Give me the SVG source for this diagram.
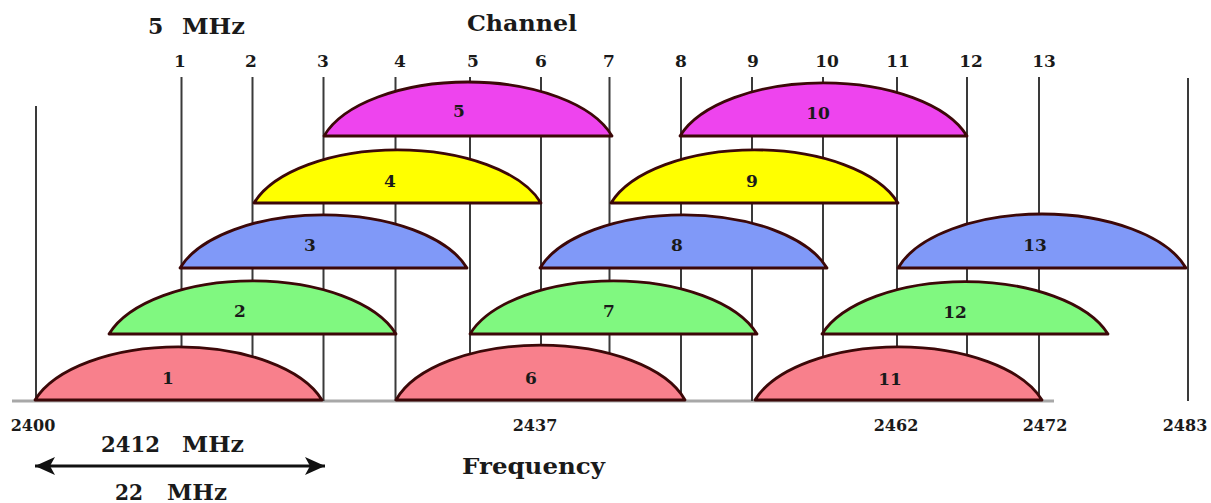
<svg xmlns="http://www.w3.org/2000/svg" width="1211" height="503" viewBox="0 0 1211 503">
  <style>
    .grid { stroke: #3a3a3a; stroke-width: 2; fill: none; }
    .base { stroke: #a8a8a8; stroke-width: 3; fill: none; }
    .bump { stroke: #3c0808; stroke-width: 2.8; stroke-linejoin: round; }
    .red { fill: #f8808c; }
    .green { fill: #80f880; }
    .blue { fill: #8099f8; }
    .yellow { fill: #ffff00; }
    .magenta { fill: #ee44ee; }
    text { font-family: "DejaVu Serif", "Liberation Serif", serif; font-weight: bold; fill: #1a1a1a; }
    .lbl { font-size: 17px; text-anchor: middle; }
    .ch { font-size: 17px; text-anchor: middle; }
    .freq { font-size: 16px; text-anchor: middle; }
    .title { font-size: 22px; }
    .big { font-size: 23px; }
    .arrow { stroke: #111; stroke-width: 3; }
  </style>
  <defs>
    <marker id="head" viewBox="0 0 20 18" refX="20" refY="9" markerWidth="20" markerHeight="18" markerUnits="userSpaceOnUse" orient="auto-start-reverse">
      <path d="M0,0 L20,9 L0,18 L5,9 Z" fill="#111"/>
    </marker>
  </defs>

  <rect width="1211" height="503" fill="#ffffff"/>

  <!-- titles -->
  <text class="title" x="148" y="34">5</text>
  <text class="title" x="182" y="34" textLength="63" lengthAdjust="spacingAndGlyphs">MHz</text>
  <text class="title" x="467" y="31" textLength="110" lengthAdjust="spacingAndGlyphs">Channel</text>

  <!-- channel numbers along the top -->
  <g id="channel-numbers">
    <text class="ch" x="180" y="67">1</text>
    <text class="ch" x="251" y="67">2</text>
    <text class="ch" x="323" y="67">3</text>
    <text class="ch" x="400" y="67">4</text>
    <text class="ch" x="473" y="67">5</text>
    <text class="ch" x="541" y="67">6</text>
    <text class="ch" x="609" y="67">7</text>
    <text class="ch" x="681" y="67">8</text>
    <text class="ch" x="753" y="67">9</text>
    <text class="ch" x="827" y="67">10</text>
    <text class="ch" x="898" y="67">11</text>
    <text class="ch" x="971" y="67">12</text>
    <text class="ch" x="1044" y="67">13</text>
  </g>

  <!-- grid lines and frequency axis -->
  <g id="grid">
    <line class="base" x1="12" y1="401" x2="1054" y2="401"/>
    <line class="grid" x1="36" y1="106" x2="36" y2="401"/>
    <line class="grid" x1="1188" y1="78" x2="1188" y2="401"/>
    <line class="grid" x1="181.5" y1="77" x2="181.5" y2="401"/>
    <line class="grid" x1="252.5" y1="77" x2="252.5" y2="401"/>
    <line class="grid" x1="323.5" y1="77" x2="323.5" y2="401"/>
    <line class="grid" x1="395.5" y1="77" x2="395.5" y2="401"/>
    <line class="grid" x1="470" y1="77" x2="470" y2="401"/>
    <line class="grid" x1="541" y1="77" x2="541" y2="401"/>
    <line class="grid" x1="609.5" y1="77" x2="609.5" y2="401"/>
    <line class="grid" x1="681" y1="77" x2="681" y2="401"/>
    <line class="grid" x1="752" y1="77" x2="752" y2="401"/>
    <line class="grid" x1="823" y1="77" x2="823" y2="401"/>
    <line class="grid" x1="897" y1="77" x2="897" y2="401"/>
    <line class="grid" x1="967" y1="77" x2="967" y2="401"/>
    <line class="grid" x1="1039" y1="77" x2="1039" y2="401"/>
  </g>

  <!-- row 1: channels 1, 6, 11 -->
  <g id="ch1"><path class="bump red" d="M35,400 A150,75 0 0 1 322,400 Z"/><text class="lbl" x="168" y="384">1</text></g>
  <g id="ch6"><path class="bump red" d="M396,400 A150,75 0 0 1 685,400 Z"/><text class="lbl" x="531" y="384">6</text></g>
  <g id="ch11"><path class="bump red" d="M755,400 A150,75 0 0 1 1042,400 Z"/><text class="lbl" x="890" y="385">11</text></g>

  <!-- row 2: channels 2, 7, 12 -->
  <g id="ch2"><path class="bump green" d="M109,334 A150,75 0 0 1 396,334 Z"/><text class="lbl" x="240" y="317">2</text></g>
  <g id="ch7"><path class="bump green" d="M470,334 A150,75 0 0 1 757,334 Z"/><text class="lbl" x="609" y="317">7</text></g>
  <g id="ch12"><path class="bump green" d="M822,334 A150,75 0 0 1 1108,334 Z"/><text class="lbl" x="955" y="318">12</text></g>

  <!-- row 3: channels 3, 8, 13 -->
  <g id="ch3"><path class="bump blue" d="M180,268 A150,75 0 0 1 467,268 Z"/><text class="lbl" x="310" y="251">3</text></g>
  <g id="ch8"><path class="bump blue" d="M540,268 A150,75 0 0 1 827,268 Z"/><text class="lbl" x="677" y="251">8</text></g>
  <g id="ch13"><path class="bump blue" d="M898,268 A150,75 0 0 1 1186,268 Z"/><text class="lbl" x="1035" y="251">13</text></g>

  <!-- row 4: channels 4, 9 -->
  <g id="ch4"><path class="bump yellow" d="M254,203 A150,75 0 0 1 541,203 Z"/><text class="lbl" x="390" y="187">4</text></g>
  <g id="ch9"><path class="bump yellow" d="M611,203 A150,75 0 0 1 898,203 Z"/><text class="lbl" x="752" y="187">9</text></g>

  <!-- row 5: channels 5, 10 -->
  <g id="ch5"><path class="bump magenta" d="M324,136 A150,75 0 0 1 612,136 Z"/><text class="lbl" x="459" y="117">5</text></g>
  <g id="ch10"><path class="bump magenta" d="M680,136 A150,75 0 0 1 967,136 Z"/><text class="lbl" x="818" y="119">10</text></g>

  <!-- frequency labels -->
  <g id="frequencies">
    <text class="freq" x="33" y="431" font-weight="normal">2400</text>
    <text class="freq" x="535" y="431">2437</text>
    <text class="freq" x="896" y="431">2462</text>
    <text class="freq" x="1045" y="431">2472</text>
    <text class="freq" x="1185" y="431">2483</text>
  </g>

  <!-- bandwidth annotation -->
  <g id="connectors">
    <line class="arrow" x1="35" y1="466" x2="325" y2="466" marker-start="url(#head)" marker-end="url(#head)"/>
  </g>
  <text class="big" x="101" y="452" textLength="59" lengthAdjust="spacingAndGlyphs">2412</text>
  <text class="big" x="182" y="452" textLength="62" lengthAdjust="spacingAndGlyphs">MHz</text>
  <text class="big" x="115" y="500" textLength="28" lengthAdjust="spacingAndGlyphs">22</text>
  <text class="big" x="167" y="500" textLength="60" lengthAdjust="spacingAndGlyphs">MHz</text>
  <text class="big" x="462" y="474" textLength="143" lengthAdjust="spacingAndGlyphs">Frequency</text>
</svg>
